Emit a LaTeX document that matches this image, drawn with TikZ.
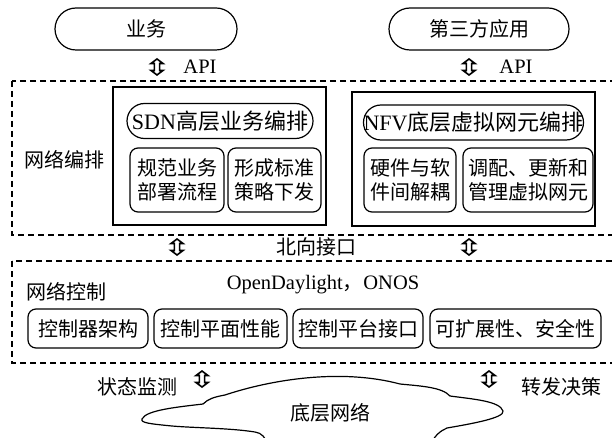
\documentclass[tikz,border=0pt]{standalone}
\usepackage{fontspec}
\setmainfont{Liberation Serif}
\newfontfamily\cjk{Noto Sans CJK SC}
\newcommand\zhtxt{\cjk\fontsize{20}{24}\selectfont}
\newcommand\zhbig{\fontsize{22}{26}\selectfont}
\begin{document}
\begin{tikzpicture}[x=1pt,y=-1pt,
  every node/.style={inner sep=0pt, outer sep=0pt},
  lw/.style={line width=1.2pt},
  pill/.style={lw, draw, rounded corners=21pt, minimum height=42pt, font=\zhtxt},
  oval/.style={lw, draw, rounded corners=17.5pt, minimum height=35pt, font=\zhbig},
  subbox/.style={lw, draw, rounded corners=8pt, minimum height=64pt, align=center, font=\zhtxt},
  ctlbox/.style={lw, draw, rounded corners=8pt, minimum height=39pt, font=\zhtxt},
  layer/.style={lw, draw, dash pattern=on 6pt off 4pt},
  frame/.style={lw, draw},
  lbl/.style={font=\zhtxt},
  latin/.style={font=\fontsize{20.5}{24}\selectfont},
  dblarrow/.pic={\draw[line width=1.6pt, fill=white, line join=miter]
     (0,-8) -- (6,-3.5) -- (2.6,-3.5) -- (2.6,3.5) -- (6,3.5) -- (0,8)
     -- (-6,3.5) -- (-2.6,3.5) -- (-2.6,-3.5) -- (-6,-3.5) -- cycle;}
]
\useasboundingbox (0,0) rectangle (612,438);
\clip (0,0) rectangle (612,438);

% top applications
\node[pill, minimum width=182pt] (biz) at (146,29) {业务};
\node[pill, minimum width=180pt] (app) at (479,29) {第三方应用};
\pic (arrA) at (157,67) {dblarrow};
\pic (arrB) at (469,67) {dblarrow};
\node[latin] (apiA) at (200,67) {API};
\node[latin] (apiB) at (516,67) {API};

% orchestration layer
\draw[layer] (12,81) rectangle (640,235);
\node[lbl] (orch) at (64,160) {网络编排};
\draw[frame] (113,87) rectangle (326,225);
\draw[frame] (352,92) rectangle (595,226);
\node[oval, minimum width=186pt] (sdn) at (220,121) {SDN{\cjk 高层业务编排}};
\node[oval, minimum width=219pt] (nfv) at (473.5,122.5) {NFV{\cjk 底层虚拟网元编排}};
\node[subbox, minimum width=94pt] (s1) at (177,180) {规范业务\\部署流程};
\node[subbox, minimum width=93pt] (s2) at (274.5,180) {形成标准\\策略下发};
\node[subbox, minimum width=92pt] (s3) at (410,180) {硬件与软\\件间解耦};
\node[subbox, minimum width=130pt] (s4) at (528,180) {调配、更新和\\管理虚拟网元};

% northbound
\pic (arrN1) at (177,247) {dblarrow};
\pic (arrN2) at (469,247) {dblarrow};
\node[lbl] (north) at (316,247) {北向接口};

% control layer
\draw[layer] (12,261) rectangle (640,363);
\node[lbl] (ctl) at (66,292) {网络控制};
\node[latin] (odl) at (323,285) {OpenDaylight{\cjk ，}ONOS};
\node[ctlbox, minimum width=120pt] (c1) at (88,328.5) {控制器架构};
\node[ctlbox, minimum width=133pt] (c2) at (220.5,328.5) {控制平面性能};
\node[ctlbox, minimum width=130pt] (c3) at (358,328.5) {控制平台接口};
\node[ctlbox, minimum width=171pt] (c4) at (515.5,328.5) {可扩展性、安全性};

% bottom
\pic (arrS1) at (202,379) {dblarrow};
\pic (arrS2) at (489,379) {dblarrow};
\node[lbl] (mon) at (137,387) {状态监测};
\node[lbl] (fwd) at (561,387) {转发决策};

% cloud
\draw[lw, fill=white] (142,419)
  .. controls (146,410) and (178,407) .. (203,404)
  .. controls (208,399) and (214,397) .. (225,395)
  .. controls (270,380) and (340,368) .. (400,384)
  .. controls (420,386) and (442,387) .. (450,396)
  .. controls (472,399) and (500,401) .. (503,411)
  .. controls (505,418) and (470,424) .. (447,428)
  .. controls (440,431) and (434,436) .. (430,446)
  -- (268,446)
  .. controls (265,437) and (262,433) .. (255,432)
  .. controls (230,428) and (195,428) .. (172,426)
  .. controls (152,424) and (140,423) .. (142,419) -- cycle;
\node[lbl] (net) at (330,413) {底层网络};
\end{tikzpicture}
\end{document}
